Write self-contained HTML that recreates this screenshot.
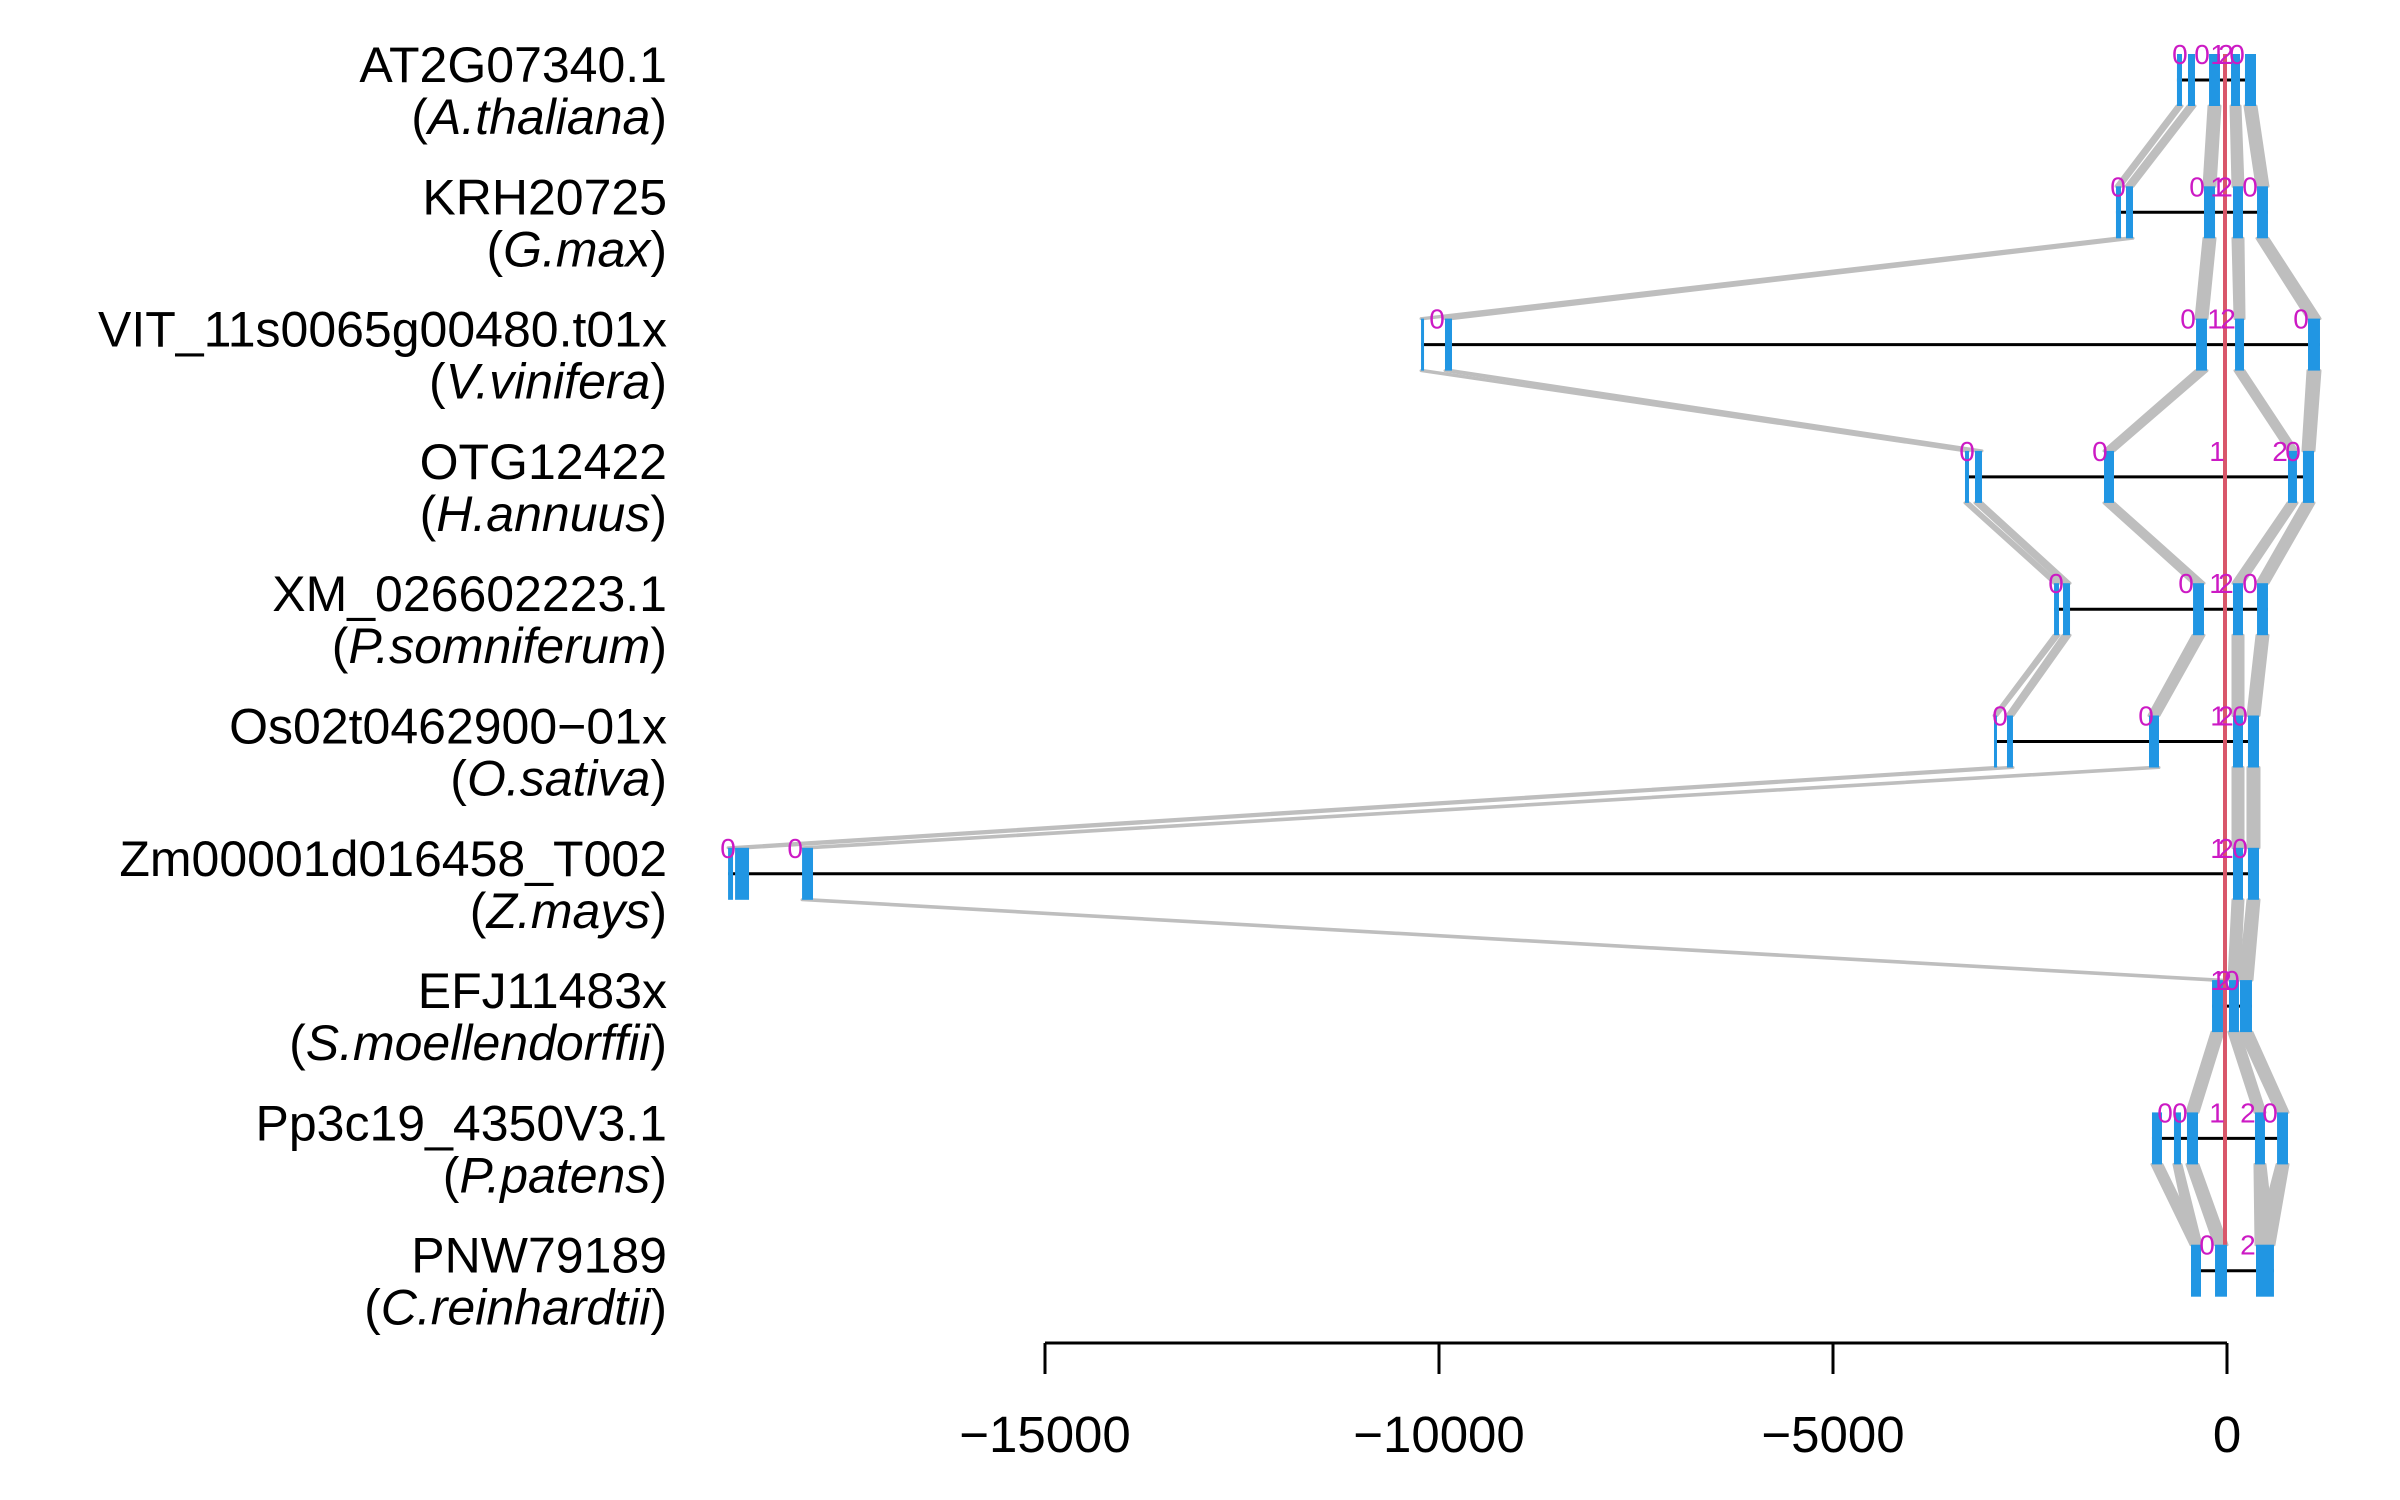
<!DOCTYPE html>
<html><head><meta charset="utf-8"><style>
html,body{margin:0;padding:0;background:#fff;}
svg{display:block;font-family:"Liberation Sans",sans-serif;}
</style></head><body>
<svg id="chart" width="2400" height="1500" viewBox="0 0 2400 1500" xmlns="http://www.w3.org/2000/svg">
<g id="bands"></g>
<g id="genes"></g>
<g id="labels"></g>
<g id="axis"></g>
</svg>
<script>
const geneNames = ["AT2G07340.1","KRH20725","VIT_11s0065g00480.t01x","OTG12422","XM_026602223.1","Os02t0462900\u221201x","Zm00001d016458_T002","EFJ11483x","Pp3c19_4350V3.1","PNW79189"];
const speciesNames = ["A.thaliana","G.max","V.vinifera","H.annuus","P.somniferum","O.sativa","Z.mays","S.moellendorffii","P.patens","C.reinhardtii"];
const exons = [
 [[-635,-571],[-495,-406],[-228,-89],[51,165],[228,368]],
 [[-1409,-1345],[-1282,-1193],[-292,-152],[76,203],[381,520]],
 [[-10228,-10190],[-9924,-9835],[-393,-254],[102,216],[1028,1180]],
 [[-3325,-3274],[-3198,-3109],[-1561,-1434],[774,888],[964,1104]],
 [[-2195,-2132],[-2081,-1992],[-431,-292],[76,203],[381,520]],
 [[-2957,-2919],[-2792,-2716],[-990,-863],[76,203],[266,406]],
 [[-19022,-18959],[-18933,-18756],[-18083,-17944],[76,203],[266,406]],
 [[-190,-51],[25,152],[165,317]],
 [[-952,-825],[-673,-584],[-508,-368],[355,482],[635,774]],
 [[-457,-330],[-152,0],[368,596]]
];
const phaseLabels = [
 [[-597,"0"],[-317,"0"],[-114,"1"],[-13,"2"],[127,"0"]],
 [[-1383,"0"],[-381,"0"],[-114,"1"],[-25,"2"],[292,"0"]],
 [[-10025,"0"],[-495,"0"],[-152,"1"],[13,"2"],[939,"0"]],
 [[-3299,"0"],[-1612,"0"],[-127,"1"],[673,"2"],[838,"0"]],
 [[-2170,"0"],[-520,"0"],[-127,"1"],[-13,"2"],[292,"0"]],
 [[-2881,"0"],[-1028,"0"],[-114,"1"],[-13,"2"],[165,"0"]],
 [[-19022,"0"],[-18171,"0"],[-114,"1"],[-13,"2"],[165,"0"]],
 [[-114,"1"],[-38,"2"],[63,"0"]],
 [[-787,"0"],[-597,"0"],[-127,"1"],[266,"2"],[546,"0"]],
 [[-254,"0"],[266,"2"]]
];
const links = [
 [[0,0],[1,1],[2,2],[3,3],[4,4]],
 [[0,0],[1,1],[2,2],[3,3],[4,4]],
 [[0,0],[1,1],[2,2],[3,3],[4,4]],
 [[0,0],[1,1],[2,2],[3,3],[4,4]],
 [[0,0],[1,1],[2,2],[3,3],[4,4]],
 [[0,0],[1,1],[2,2],[3,3],[4,4]],
 [[2,0],[3,1],[4,2]],
 [[0,2],[1,3],[2,4]],
 [[0,0],[1,0],[2,1],[3,2],[4,2]]
];
const tickValues = [-15000,-10000,-5000,0];
const tickLabels = ["\u221215000","\u221210000","\u22125000","0"];

const NS="http://www.w3.org/2000/svg";
const X0=2227, PX=0.0788;
const xs = u => X0 + u*PX;
const ys = i => 80 + i*132.3;
const H=26;
function mk(tag, attrs, parent){const e=document.createElementNS(NS,tag);for(const k in attrs)e.setAttribute(k,attrs[k]);parent.appendChild(e);return e;}
const gB=document.getElementById('bands'), gG=document.getElementById('genes'), gL=document.getElementById('labels'), gA=document.getElementById('axis');

links.forEach((lk,i)=>{
  lk.forEach(([a,b])=>{
    const ea=exons[i][a], eb=exons[i+1][b];
    const y1=ys(i)+H, y2=ys(i+1)-H;
    const p=mk('polygon',{points:`${xs(ea[0])},${y1} ${xs(ea[1])},${y1} ${xs(eb[1])},${y2} ${xs(eb[0])},${y2}`,fill:'#bebebe',stroke:'#bebebe','stroke-width':3,'stroke-linejoin':'round'},gB);
    
    
  });
});

exons.forEach((row,i)=>{
  const y=ys(i);
  const ln=mk('line',{x1:xs(row[0][0]),x2:xs(row[row.length-1][1]),y1:y,y2:y,stroke:'#000','stroke-width':3},gG);
  
  
  row.forEach(e=>{
    const r=mk('rect',{x:xs(e[0]),y:y-H,width:Math.max(3,xs(e[1])-xs(e[0])),height:2*H,fill:'#2196e3'},gG);
    
    
  });
});

const red=mk('line',{x1:xs(0)-2,x2:xs(0)-2,y1:ys(0)-H,y2:ys(9)-H,stroke:'#d9576a','stroke-width':4},gG);



phaseLabels.forEach((row,i)=>{
  row.forEach(([u,t])=>{
    const tx=mk('text',{x:xs(u),y:ys(i)-H+10,'text-anchor':'middle','font-size':28,fill:'#cc1ac4'},gG);
    tx.textContent=t;
    
    
  });
});

geneNames.forEach((n,i)=>{
  const y=ys(i);
  const t1=mk('text',{x:667,y:y+2,'text-anchor':'end','font-size':50,fill:'#000'},gL);
  t1.textContent=n;
  
  
  const t2=mk('text',{x:667,y:y+54,'text-anchor':'end','font-size':50,fill:'#000'},gL);
  
  
  const a=mk('tspan',{},t2);a.textContent='(';
  const b=mk('tspan',{'font-style':'italic'},t2);b.textContent=speciesNames[i];
  const c=mk('tspan',{},t2);c.textContent=')';
});

const ax=mk('line',{x1:xs(-15000),x2:xs(0),y1:1343,y2:1343,stroke:'#000','stroke-width':3},gA);


tickValues.forEach((v,k)=>{
  const t=mk('line',{x1:xs(v),x2:xs(v),y1:1343,y2:1374,stroke:'#000','stroke-width':3},gA);
  
  
  const l=mk('text',{x:xs(v),y:1452,'text-anchor':'middle','font-size':51,fill:'#000'},gA);
  l.textContent=tickLabels[k];
  
  
});
</script>
</body></html>
